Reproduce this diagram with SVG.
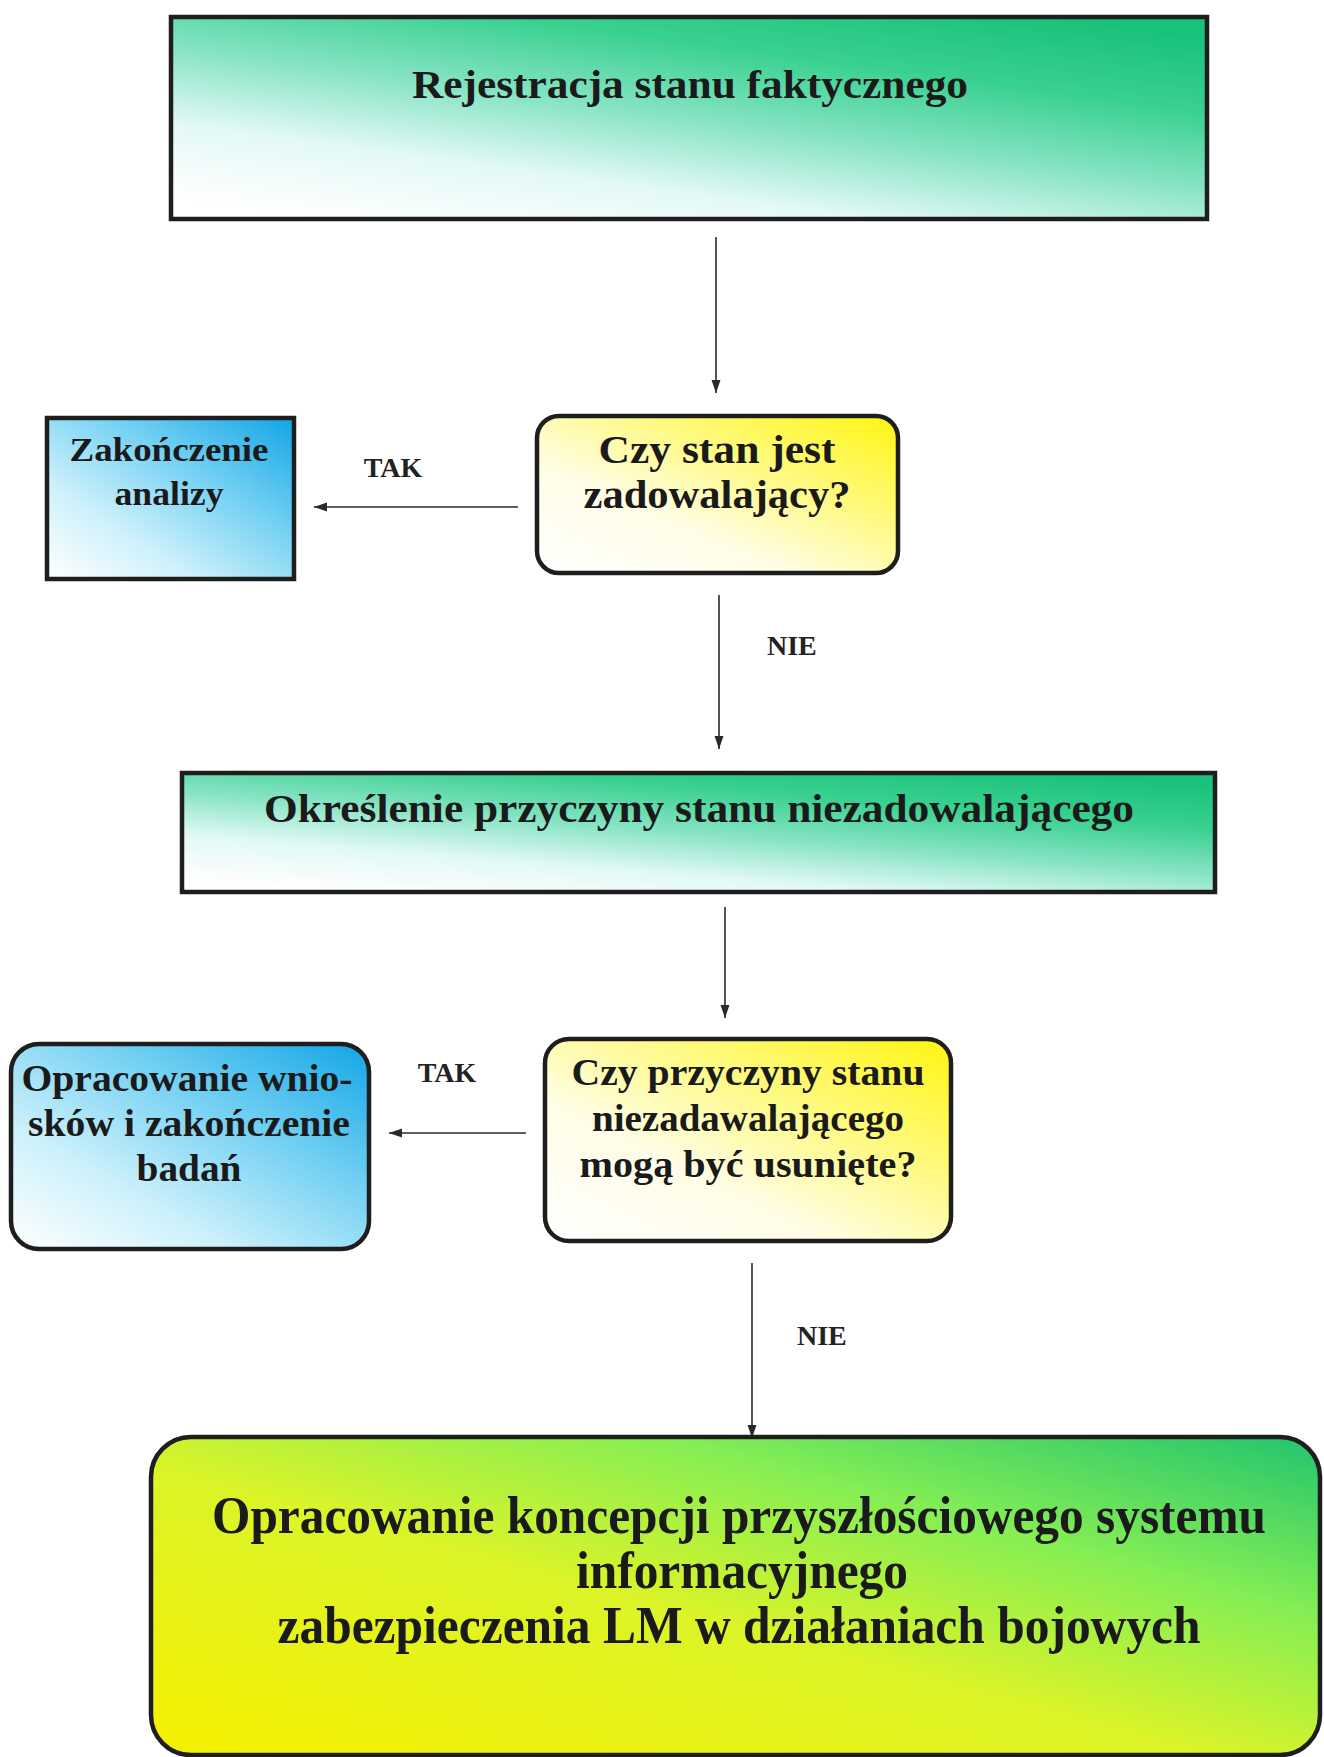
<svg xmlns="http://www.w3.org/2000/svg" width="1324" height="1757" viewBox="0 0 1324 1757">
  <defs>
    <linearGradient id="gGreen" x1="0.15" y1="1" x2="0.85" y2="0">
      <stop offset="0" stop-color="#ffffff"/>
      <stop offset="0.25" stop-color="#e2f9f6"/>
      <stop offset="0.5" stop-color="#86e3c4"/>
      <stop offset="0.75" stop-color="#3ad190"/>
      <stop offset="1" stop-color="#19c27a"/>
    </linearGradient>
    <linearGradient id="gBlue" x1="0" y1="1" x2="1" y2="0">
      <stop offset="0" stop-color="#ffffff"/>
      <stop offset="0.3" stop-color="#cdf1fb"/>
      <stop offset="0.65" stop-color="#70cff2"/>
      <stop offset="1" stop-color="#12a5e6"/>
    </linearGradient>
    <linearGradient id="gYellow" x1="0" y1="1" x2="1" y2="0">
      <stop offset="0" stop-color="#ffffff"/>
      <stop offset="0.35" stop-color="#fffde6"/>
      <stop offset="0.62" stop-color="#fffa8a"/>
      <stop offset="1" stop-color="#fff510"/>
    </linearGradient>
    <linearGradient id="gFinal" x1="0" y1="1" x2="1" y2="0">
      <stop offset="0" stop-color="#f6f000"/>
      <stop offset="0.45" stop-color="#dcf428"/>
      <stop offset="0.72" stop-color="#84ee55"/>
      <stop offset="1" stop-color="#22c46e"/>
    </linearGradient>
    <marker id="arrow" markerWidth="13" markerHeight="10" refX="13" refY="5" orient="auto" markerUnits="userSpaceOnUse">
      <path d="M0,0.5 L13,5 L0,9.5 Z" fill="#2a2a2a"/>
    </marker>
  </defs>
  <style>
    .box { stroke: #1e1e1e; stroke-width: 4.5; }
    .t { font-family: "Liberation Serif", "Times New Roman", serif; font-weight: bold; fill: #1a1a1a; text-anchor: middle; }
    .lbl { font-family: "Liberation Serif", "Times New Roman", serif; font-weight: bold; fill: #222; font-size: 28px; }
    .conn { stroke: #2a2a2a; stroke-width: 1.6; fill: none; marker-end: url(#arrow); }
  </style>
  <rect width="1324" height="1757" fill="#ffffff"/>

  <g id="connectors">
    <line class="conn" x1="716" y1="237" x2="716" y2="393"/>
    <line class="conn" x1="518" y1="507" x2="314" y2="507"/>
    <line class="conn" x1="719" y1="595" x2="719" y2="749"/>
    <line class="conn" x1="725" y1="907" x2="725" y2="1018"/>
    <line class="conn" x1="526" y1="1133" x2="389" y2="1133"/>
    <line class="conn" x1="752" y1="1263" x2="752" y2="1438"/>
    <text class="lbl" x="393" y="477" text-anchor="middle">TAK</text>
    <text class="lbl" x="767" y="655">NIE</text>
    <text class="lbl" x="447" y="1082" text-anchor="middle">TAK</text>
    <text class="lbl" x="797" y="1345">NIE</text>
  </g>

  <g id="node-rejestracja">
    <rect class="box" x="171" y="17" width="1036" height="202" fill="url(#gGreen)"/>
    <text class="t" x="690" y="98" font-size="40" textLength="556" lengthAdjust="spacingAndGlyphs">Rejestracja stanu faktycznego</text>
  </g>

  <g id="node-czy-stan">
    <rect class="box" x="537" y="416" width="361" height="157" rx="22" fill="url(#gYellow)"/>
    <text class="t" x="717" y="463" font-size="40" textLength="237" lengthAdjust="spacingAndGlyphs">Czy stan jest</text>
    <text class="t" x="717" y="508" font-size="40" textLength="267" lengthAdjust="spacingAndGlyphs">zadowalający?</text>
  </g>

  <g id="node-zakonczenie-analizy">
    <rect class="box" x="47" y="418" width="247" height="161" fill="url(#gBlue)"/>
    <text class="t" x="169" y="461" font-size="34" textLength="199" lengthAdjust="spacingAndGlyphs">Zakończenie</text>
    <text class="t" x="169" y="505" font-size="34" textLength="109" lengthAdjust="spacingAndGlyphs">analizy</text>
  </g>

  <g id="node-okreslenie">
    <rect class="box" x="182" y="773" width="1033" height="119" fill="url(#gGreen)"/>
    <text class="t" x="699" y="822" font-size="40" textLength="870" lengthAdjust="spacingAndGlyphs">Określenie przyczyny stanu niezadowalającego</text>
  </g>

  <g id="node-czy-przyczyny">
    <rect class="box" x="545" y="1039" width="406" height="202" rx="24" fill="url(#gYellow)"/>
    <text class="t" x="748" y="1085" font-size="37" textLength="353" lengthAdjust="spacingAndGlyphs">Czy przyczyny stanu</text>
    <text class="t" x="748" y="1131" font-size="37" textLength="312" lengthAdjust="spacingAndGlyphs">niezadawalającego</text>
    <text class="t" x="748" y="1177" font-size="37" textLength="337" lengthAdjust="spacingAndGlyphs">mogą być usunięte?</text>
  </g>

  <g id="node-opracowanie-wnioskow">
    <rect class="box" x="11" y="1044" width="358" height="205" rx="28" fill="url(#gBlue)"/>
    <text class="t" x="187" y="1091" font-size="38" textLength="331" lengthAdjust="spacingAndGlyphs">Opracowanie wnio-</text>
    <text class="t" x="189" y="1136" font-size="38" textLength="322" lengthAdjust="spacingAndGlyphs">sków i zakończenie</text>
    <text class="t" x="189" y="1181" font-size="38" textLength="105" lengthAdjust="spacingAndGlyphs">badań</text>
  </g>

  <g id="node-opracowanie-koncepcji">
    <rect class="box" x="151" y="1437" width="1169" height="318" rx="40" fill="url(#gFinal)"/>
    <text class="t" x="739" y="1533" font-size="52" textLength="1054" lengthAdjust="spacingAndGlyphs">Opracowanie koncepcji przyszłościowego systemu</text>
    <text class="t" x="742" y="1588" font-size="52" textLength="332" lengthAdjust="spacingAndGlyphs">informacyjnego</text>
    <text class="t" x="739" y="1643" font-size="52" textLength="923" lengthAdjust="spacingAndGlyphs">zabezpieczenia LM w działaniach bojowych</text>
  </g>
</svg>
